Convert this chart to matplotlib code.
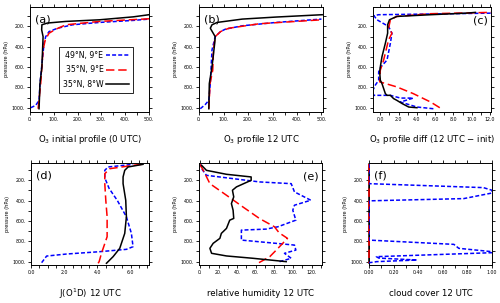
import matplotlib

matplotlib.use("Agg")

import matplotlib.pyplot as plt
from matplotlib.ticker import FixedLocator, MultipleLocator, FormatStrFormatter

# ---- data (value, pressure hPa) ----
# (a) O3 initial profile
a_blue_v = [3, 24, 38, 42, 49, 59, 66, 80, 116, 179, 292, 434, 500]
a_blue_p = [1000, 977, 927, 762, 597, 365, 300, 250, 217, 183, 160, 140, 127]
a_red_v = [34, 45, 55, 64, 80, 109, 151, 292, 500]
a_red_p = [1010, 762, 431, 332, 266, 226, 183, 150, 124]
a_blk_v = [38, 42, 50, 55, 49, 50, 73, 151, 292, 434, 500]
a_blk_p = [1010, 762, 597, 300, 233, 183, 166, 150, 134, 105, 84]

# (b) O3 profile 12 UTC
b_blue_v = [4, 25, 39, 45, 52, 65, 87, 107, 176, 314, 500]
b_blue_p = [1010, 967, 927, 762, 431, 300, 250, 226, 193, 160, 127]
b_red_v = [39, 44, 55, 58, 65, 87, 121, 245, 500]
b_red_p = [1010, 762, 630, 431, 300, 250, 217, 173, 134]
b_blk_v = [39, 41, 52, 63, 65, 45, 52, 73, 176, 314, 503]
b_blk_p = [1010, 762, 597, 365, 300, 217, 183, 160, 127, 107, 84]

# (c) O3 profile diff
c_blue_v = [5.8, 4.0, 2.2, 3.6, 2.2, 1.1, -0.7, -0.9, -0.55, -0.18, -0.18, 0.07,
            0.73, 1.1, 1.27, 0.9, -0.36, -0.7, -0.2, 5.5, 12.5]
c_blue_p = [1010, 993, 944, 905, 905, 878, 878, 845, 778, 729, 646, 597,
            531, 365, 266, 200, 134, 94, 84, 77, 68]
c_red_v = [6.5, 5.5, 3.6, 1.8, -0.07, 0.0, 0.36, 0.9, 1.27, 0.9, 1.1, 1.8, 5.5, 12.5]
c_red_p = [1000, 944, 861, 795, 745, 630, 531, 332, 266, 217, 134, 101, 74, 60]
c_blk_v = [4.0, 3.1, 2.4, 1.8, 1.45, 1.1, 0.73, 0.55, 0.18, 0.0, -0.07, 0.0,
           0.18, 0.55, 0.8, 0.8, 1.0, 1.8, 5.5, 9.5, 10.4]
c_blk_p = [1000, 993, 960, 927, 910, 878, 878, 861, 762, 729, 646, 597,
           498, 365, 266, 183, 134, 101, 84, 68, 61]

# (d) J(O1D) 12 UTC
d_blue_v = [0.64, 0.94, 2.14, 4.14, 5.74, 6.14, 6.04, 5.74, 5.2, 4.7, 4.5, 4.44, 4.44, 4.64, 6.14]
d_blue_p = [1010, 945, 925, 902, 879, 853, 722, 559, 400, 280, 200, 167, 102, 69, 43]
d_red_v = [4.04, 4.1, 4.24, 4.58, 4.58, 4.5, 4.44, 4.44, 4.74, 6.14, 6.64]
d_red_p = [1016, 1000, 918, 755, 559, 396, 233, 135, 86, 53, 43]
d_blk_v = [4.54, 4.94, 5.34, 5.64, 5.74, 5.7, 5.54, 5.54, 5.64, 5.84, 6.74]
d_blk_p = [1016, 951, 869, 722, 559, 396, 233, 167, 102, 69, 43]

# (e) relative humidity 12 UTC
e_blue_v = [85.5, 98, 90.8, 103, 101.5, 44.5, 44.5, 71, 83.7, 103, 99.7, 101.5,
            119, 101.5, 98, 64, 7, 1.8, 0.7]
e_blue_p = [1000, 967, 918, 886, 837, 788, 690, 680, 657, 592, 494, 445,
            396, 314, 233, 216, 151, 86, 43]
e_red_v = [63.4, 75, 82, 94, 85, 80, 64, 46, 28.5, 10.7, 3.6, 0]
e_red_p = [1010, 951, 886, 771, 716, 657, 576, 461, 347, 233, 102, 43]
e_blk_v = [92.6, 57, 28.5, 12.5, 10.7, 14.2, 21.4, 23, 28.5, 32, 36.3, 35.6,
           33.8, 36.3, 34.9, 39.2, 55, 55, 28.5, 7, 1.8]
e_blk_p = [1000, 967, 944, 918, 869, 820, 771, 722, 673, 592, 575, 494,
           429, 363, 298, 265, 200, 167, 141, 102, 53]

# (f) cloud cover 12 UTC
f_blue_v = [0, 0, 0.93, 1.0, 1.0, 0.77, 0, 0, 0.69, 0.73, 1.0, 1.0, 0.23,
            0.06, 0.08, 0.39, 0.06, 0.04, 0]
f_blue_p = [40, 233, 272, 298, 325, 380, 402, 788, 830, 869, 902, 912, 944,
            951, 965, 984, 1000, 1005, 1010]
f_red_v = [0, 0]
f_red_p = [40, 1010]
f_blk_v = [0, 0]
f_blk_p = [40, 1010]

LEGEND = ["49°N, 9°E", "35°N, 9°E", "35°N, 8°W"]
TITLES = [
    "O$_3$ initial profile (0 UTC)",
    "O$_3$ profile 12 UTC",
    "O$_3$ profile diff (12 UTC − init)",
    "J(O$^1$D) 12 UTC",
    "relative humidity 12 UTC",
    "cloud cover 12 UTC",
]

BLUE = dict(color="#0000ff", lw=1.1, ls=(0, (2.6, 1.4)))
RED = dict(color="#ff0000", lw=1.1, ls=(0, (5.5, 2.5)))
BLACK = dict(color="black", lw=1.1, ls="-")

fig = plt.figure(figsize=(5.0, 3.03), dpi=100)

positions = [
    [0.060, 0.6294, 0.238, 0.3485],
    [0.3986, 0.6294, 0.2468, 0.3485],
    [0.746, 0.6294, 0.236, 0.3485],
    [0.062, 0.1254, 0.236, 0.3356],
    [0.398, 0.1254, 0.2468, 0.3356],
    [0.738, 0.1254, 0.246, 0.3356],
]
xlims = [(0, 500), (0, 505), (-0.8, 12.1), (0, 7.1), (-1, 131.5), (0, 1.0)]
xmajor = [100, 100, 2, 2, 20, 0.2]
xminor = [50, 50, 1, 0.5, 10, 0.1]
xfmt = ["%d.", "%d.", "%.1f", "%.1f", "%d.", "%.2f"]
labels = ["(a)", "(b)", "(c)", "(d)", "(e)", "(f)"]
label_right = [False, False, True, False, True, False]
title_y = [1 - 140 / 303] * 3 + [1 - 294 / 303] * 3

series = [
    (a_blue_v, a_blue_p, a_red_v, a_red_p, a_blk_v, a_blk_p),
    (b_blue_v, b_blue_p, b_red_v, b_red_p, b_blk_v, b_blk_p),
    (c_blue_v, c_blue_p, c_red_v, c_red_p, c_blk_v, c_blk_p),
    (d_blue_v, d_blue_p, d_red_v, d_red_p, d_blk_v, d_blk_p),
    (e_blue_v, e_blue_p, e_red_v, e_red_p, e_blk_v, e_blk_p),
    (f_blue_v, f_blue_p, f_red_v, f_red_p, f_blk_v, f_blk_p),
]

for i, pos in enumerate(positions):
    ax = fig.add_axes(pos)
    bv, bp, rv, rp, kv, kp = series[i]
    if i == 5:
        ax.plot(kv, kp, **BLACK, clip_on=False, zorder=2)
        ax.plot(rv, rp, **RED, clip_on=False, zorder=3)
        lb, = ax.plot(bv, bp, **BLUE, zorder=4)
    else:
        lb, = ax.plot(bv, bp, **BLUE)
        lr, = ax.plot(rv, rp, **RED)
        lk, = ax.plot(kv, kp, **BLACK)
    ax.set_xlim(*xlims[i])
    if i < 3:
        ax.set_ylim(1045, 5)
    else:
        ax.set_ylim(1033, 33)
    ax.yaxis.set_major_locator(FixedLocator([200, 400, 600, 800, 1000]))
    ax.yaxis.set_minor_locator(MultipleLocator(100))
    ax.yaxis.set_major_formatter(FormatStrFormatter("%d."))
    ax.xaxis.set_major_locator(MultipleLocator(xmajor[i]))
    ax.xaxis.set_minor_locator(MultipleLocator(xminor[i]))
    ax.xaxis.set_major_formatter(FormatStrFormatter(xfmt[i]))
    ax.tick_params(which="both", direction="out", top=True, right=True,
                   length=2.2, width=0.6, labelsize=3.4, pad=1.5)
    for s in ax.spines.values():
        s.set_linewidth(0.7)
    ax.set_ylabel("pressure (hPa)", fontsize=3.6, labelpad=2)
    fig.text(pos[0] + pos[2] / 2, title_y[i], TITLES[i], fontsize=6.2,
             ha="center", va="center")
    if label_right[i]:
        ax.text(0.97, 0.87, labels[i], transform=ax.transAxes, fontsize=8,
                ha="right", va="center")
    else:
        ax.text(0.04, 0.88, labels[i], transform=ax.transAxes, fontsize=8,
                ha="left", va="center")
    if i == 0:
        leg = ax.legend([lb, lr, lk], LEGEND, loc="upper left",
                        bbox_to_anchor=(0.21, 0.655), fontsize=5.6,
                        markerfirst=False, handlelength=3.0, handletextpad=0.3,
                        borderpad=0.5, labelspacing=0.7, fancybox=False,
                        framealpha=1, edgecolor="black")
        leg.get_frame().set_linewidth(0.6)

fig.savefig("out.png", dpi=100)
